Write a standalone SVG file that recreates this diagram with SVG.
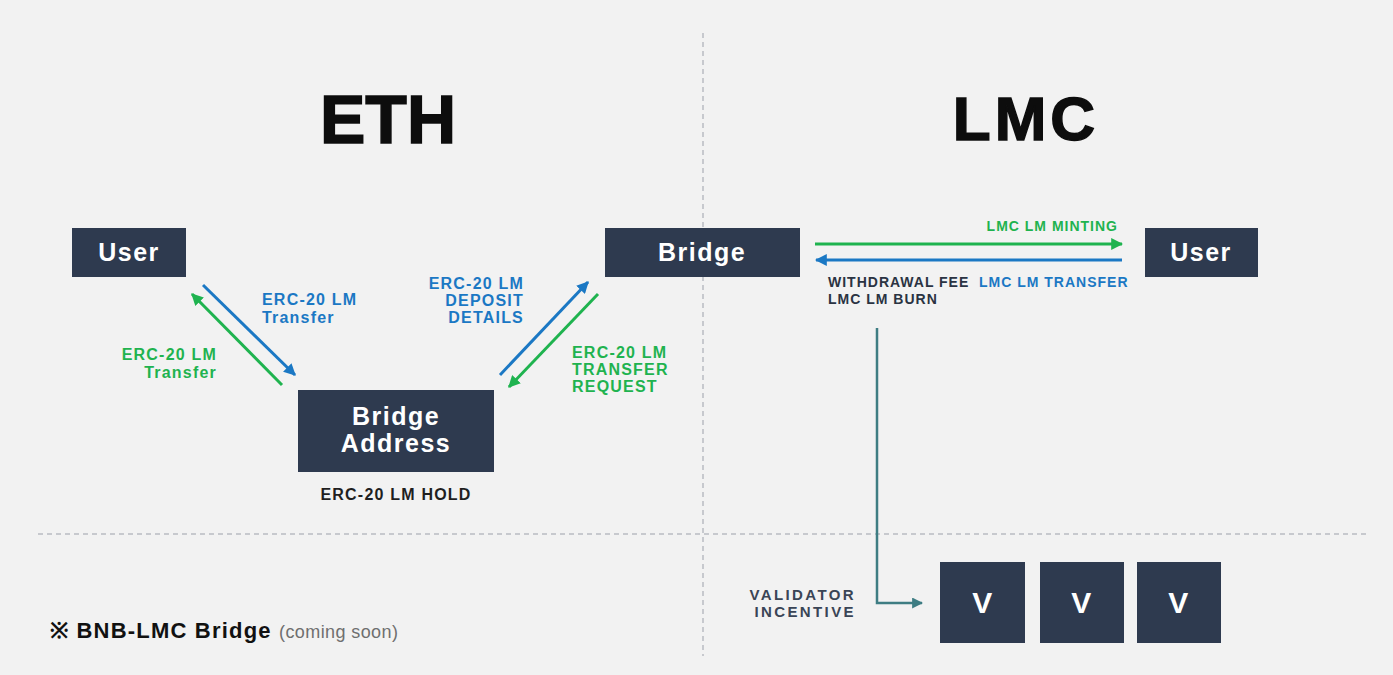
<svg xmlns="http://www.w3.org/2000/svg" width="1393" height="675" viewBox="0 0 1393 675">
<style>
.box{fill:#2e3a4f}
.bt{font-family:"Liberation Sans",Arial,sans-serif;font-weight:bold;fill:#ffffff;text-anchor:middle;letter-spacing:1.5px}
.lbl{font-family:"Liberation Sans",Arial,sans-serif;font-weight:bold;font-size:16px;letter-spacing:1.2px}
.sm{font-family:"Liberation Sans",Arial,sans-serif;font-weight:bold;font-size:14px;letter-spacing:1px}
.val{font-family:"Liberation Sans",Arial,sans-serif;font-weight:bold;font-size:15px;letter-spacing:2.4px;fill:#3a4556;text-anchor:end}
.blue{fill:#1b78c4}
.green{fill:#1fb34f}
.dark{fill:#2a3342}
.title{font-family:"Liberation Sans",Arial,sans-serif;font-weight:bold;fill:#0d0d0d;text-anchor:middle}
.div{stroke:#b9bcc2;stroke-width:1.5;stroke-dasharray:5 4;fill:none}
</style>
<defs>
<marker id="hb" viewBox="0 0 10 10" refX="9" refY="5" markerWidth="12" markerHeight="12" markerUnits="userSpaceOnUse" orient="auto"><path d="M0,0 L10,5 L0,10 z" fill="#1b78c4"/></marker>
<marker id="hg" viewBox="0 0 10 10" refX="9" refY="5" markerWidth="12" markerHeight="12" markerUnits="userSpaceOnUse" orient="auto"><path d="M0,0 L10,5 L0,10 z" fill="#1fb34f"/></marker>
<marker id="ht" viewBox="0 0 10 10" refX="9" refY="5" markerWidth="11" markerHeight="11" markerUnits="userSpaceOnUse" orient="auto"><path d="M0,0 L10,5 L0,10 z" fill="#3e7d83"/></marker>
</defs>
<rect width="1393" height="675" fill="#f2f2f2"/>
<g id="dividers">
<line class="div" x1="703" y1="33" x2="703" y2="656"/>
<line class="div" x1="38" y1="534" x2="1366" y2="534"/>
</g>
<g id="titles">
<text class="title" x="388" y="143" font-size="68" stroke="#0d0d0d" stroke-width="1.5">ETH</text>
<text class="title" x="1026" y="140" font-size="62" letter-spacing="4" stroke="#0d0d0d" stroke-width="1.5">LMC</text>
</g>
<g id="connectors" fill="none" stroke-width="3">
<line x1="203" y1="285" x2="295" y2="375" stroke="#1b78c4" marker-end="url(#hb)"/>
<line x1="282" y1="385" x2="192" y2="294" stroke="#1fb34f" marker-end="url(#hg)"/>
<line x1="500" y1="375" x2="588" y2="282" stroke="#1b78c4" marker-end="url(#hb)"/>
<line x1="598" y1="294" x2="509" y2="387" stroke="#1fb34f" marker-end="url(#hg)"/>
<line x1="815" y1="244" x2="1122" y2="244" stroke="#1fb34f" marker-end="url(#hg)"/>
<line x1="1122" y1="260" x2="816" y2="260" stroke="#1b78c4" marker-end="url(#hb)"/>
<polyline points="877,328 877,603 922,603" stroke="#3e7d83" stroke-width="2.5" marker-end="url(#ht)"/>
</g>
<g id="user-eth">
<rect class="box" x="72" y="228" width="114" height="49"/>
<text class="bt" x="129" y="261" font-size="25">User</text>
</g>
<g id="bridge">
<rect class="box" x="605" y="228" width="195" height="49"/>
<text class="bt" x="702" y="261" font-size="25">Bridge</text>
</g>
<g id="bridge-address">
<rect class="box" x="298" y="390" width="196" height="82"/>
<text class="bt" x="396" y="425" font-size="25">Bridge</text>
<text class="bt" x="396" y="452" font-size="25">Address</text>
</g>
<g id="user-lmc">
<rect class="box" x="1145" y="228" width="113" height="49"/>
<text class="bt" x="1201" y="261" font-size="25">User</text>
</g>
<g id="v1"><rect class="box" x="940" y="562" width="85" height="81"/><text class="bt" x="983" y="613" font-size="30">V</text></g>
<g id="v2"><rect class="box" x="1040" y="562" width="84" height="81"/><text class="bt" x="1082" y="613" font-size="30">V</text></g>
<g id="v3"><rect class="box" x="1137" y="562" width="84" height="81"/><text class="bt" x="1179" y="613" font-size="30">V</text></g>
<g id="labels">
<text class="lbl blue" x="262" y="305">ERC-20 LM</text>
<text class="lbl blue" x="262" y="323">Transfer</text>
<text class="lbl green" x="217" y="360" text-anchor="end">ERC-20 LM</text>
<text class="lbl green" x="217" y="378" text-anchor="end">Transfer</text>
<text class="lbl blue" x="524" y="289" text-anchor="end">ERC-20 LM</text>
<text class="lbl blue" x="524" y="306" text-anchor="end">DEPOSIT</text>
<text class="lbl blue" x="524" y="323" text-anchor="end">DETAILS</text>
<text class="lbl green" x="572" y="358">ERC-20 LM</text>
<text class="lbl green" x="572" y="375">TRANSFER</text>
<text class="lbl green" x="572" y="392">REQUEST</text>
<text class="lbl dark" x="396" y="500" text-anchor="middle" style="fill:#1f1f1f">ERC-20 LM HOLD</text>
<text class="sm green" x="1118" y="231" text-anchor="end">LMC LM MINTING</text>
<text class="sm dark" x="828" y="287">WITHDRAWAL FEE</text>
<text class="sm blue" x="979" y="287">LMC LM TRANSFER</text>
<text class="sm dark" x="828" y="304">LMC LM BURN</text>
<text class="val" x="856" y="600">VALIDATOR</text>
<text class="val" x="856" y="617">INCENTIVE</text>
</g>
<g id="note">
<text x="50" y="638" font-family="'Liberation Sans',Arial,sans-serif" font-size="22" font-weight="bold" fill="#111" letter-spacing="1.2">※ BNB-LMC Bridge <tspan font-weight="normal" font-size="18" fill="#6f6f6f" letter-spacing="0.4">(coming soon)</tspan></text>
</g>
</svg>
